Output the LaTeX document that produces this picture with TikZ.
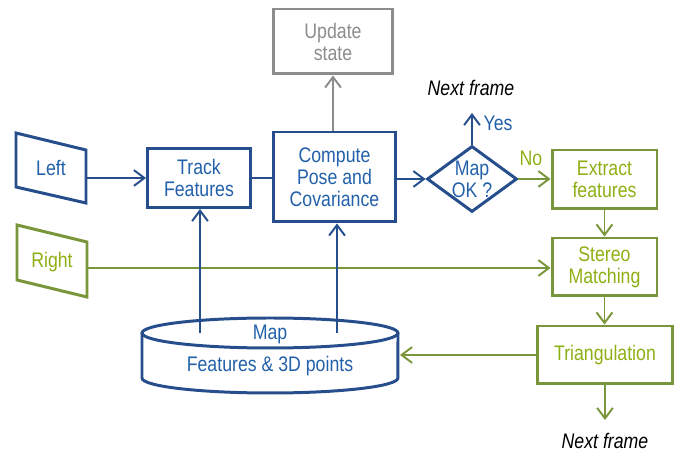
\documentclass[tikz,border=0pt]{standalone}
\usepackage{fontspec}
\setmainfont{Liberation Sans}[FakeStretch=0.84]
\usetikzlibrary{shapes.geometric,arrows.meta}

\definecolor{mapblue}{RGB}{38,78,140}
\definecolor{blueink}{RGB}{34,96,170}
\definecolor{stereogreen}{RGB}{122,150,58}
\definecolor{greenink}{RGB}{140,176,20}
\definecolor{stategray}{RGB}{140,140,140}

\tikzset{
  txt/.style={font=\fontsize{12}{12.5}\selectfont, align=center},
  box/.style={txt, draw, line width=1.7pt, inner sep=0pt},
  bluebox/.style={box, draw=mapblue, text=blueink},
  greenbox/.style={box, draw=stereogreen, text=greenink},
  flow/.style={line width=1.1pt, -{Straight Barb[length=6pt,width=9pt]}},
}

\begin{document}
\begin{tikzpicture}[x=0.02cm, y=-0.02cm]
    \useasboundingbox (0,0) rectangle (680,455);

    % Camera inputs
    \draw[mapblue, line width=1.7pt] (16,133) -- (86,150) -- (86,203) -- (16,187) -- cycle;
    \node[txt, text=blueink] (left) at (51,168) {Left};
    \coordinate (leftout) at (86,178);
    \draw[stereogreen, line width=1.7pt] (17,225) -- (87,242) -- (87,297) -- (17,280) -- cycle;
    \node[txt, text=greenink] (right) at (52,262) {Right};
    \coordinate (rightout) at (87,268);

    % Tracking branch
    \node[bluebox, minimum width=2.06cm, minimum height=1.18cm] (track) at (199,178) {Track\\Features};
    \node[bluebox, minimum width=2.46cm, minimum height=1.8cm] (pose) at (334.5,177) {Compute\\Pose and\\Covariance};
    \node[box, draw=stategray, text=stategray, minimum width=2.4cm, minimum height=1.3cm] (update) at (333,41.5) {Update\\state};
    \node[bluebox, shape=diamond, minimum width=1.8cm, minimum height=1.32cm, inner sep=-8pt] (mapok) at (472,179) {Map\\OK ?};

    % Mapping branch
    \node[greenbox, minimum width=2.1cm, minimum height=1.18cm] (extract) at (604.5,179.5) {Extract\\features};
    \node[greenbox, minimum width=2.1cm, minimum height=1.16cm] (stereo) at (604.5,267) {Stereo\\Matching};
    \node[greenbox, minimum width=2.72cm, minimum height=1.16cm] (tri) at (605,355) {Triangulation};

    % Map storage
    \draw[mapblue, line width=1.7pt] (142,333) -- (142,378)
        arc[start angle=180, end angle=360, x radius=2.56cm, y radius=0.3cm] -- (398,333);
    \draw[mapblue, line width=1.7pt] (270,333) ellipse [x radius=2.56cm, y radius=0.3cm];
    \node[txt, text=blueink] (map) at (270,350) {Map\\[5.7pt]Features \& 3D points};
    \coordinate (maptrack) at (200,333);
    \coordinate (mappose) at (337,333);
    \coordinate (mapin) at (400,355);

    % Labels
    \node[txt, font=\fontsize{12}{12.5}\selectfont\itshape] (next1) at (471,88) {Next frame};
    \node[txt, font=\fontsize{12}{12.5}\selectfont\itshape] (next2) at (605,441) {Next frame};
    \node[txt, text=blueink] (yes) at (498,123) {Yes};
    \node[txt, text=greenink] (no) at (531,158) {No};
    \coordinate (yesend) at (472,113);
    \coordinate (triend) at (605,420);

    % Arrows
    \draw[flow, mapblue] (leftout) -- (leftout -| track.west);
    \draw[line width=1.1pt, mapblue] (track.east) -- (track.east -| pose.west);
    \draw[flow, stategray] (update.south |- pose.north) -- (update.south);
    \draw[flow, mapblue] (pose.east |- mapok.west) -- (mapok.west);
    \draw[flow, mapblue] (mapok.north) -- (yesend);
    \draw[flow, stereogreen] (mapok.east) -- (extract.west |- mapok.east);
    \draw[flow, stereogreen] (extract.south) -- (extract.south |- stereo.north);
    \draw[flow, stereogreen] (rightout) -- (rightout -| stereo.west);
    \draw[flow, stereogreen] (stereo.south |- stereo.south) -- (stereo.south |- tri.north);
    \draw[flow, stereogreen] (tri.south) -- (triend);
    \draw[flow, stereogreen] (tri.west) -- (mapin);
    \draw[flow, mapblue] (maptrack) -- (maptrack |- track.south);
    \draw[flow, mapblue] (mappose) -- (mappose |- pose.south);
\end{tikzpicture}
\end{document}
